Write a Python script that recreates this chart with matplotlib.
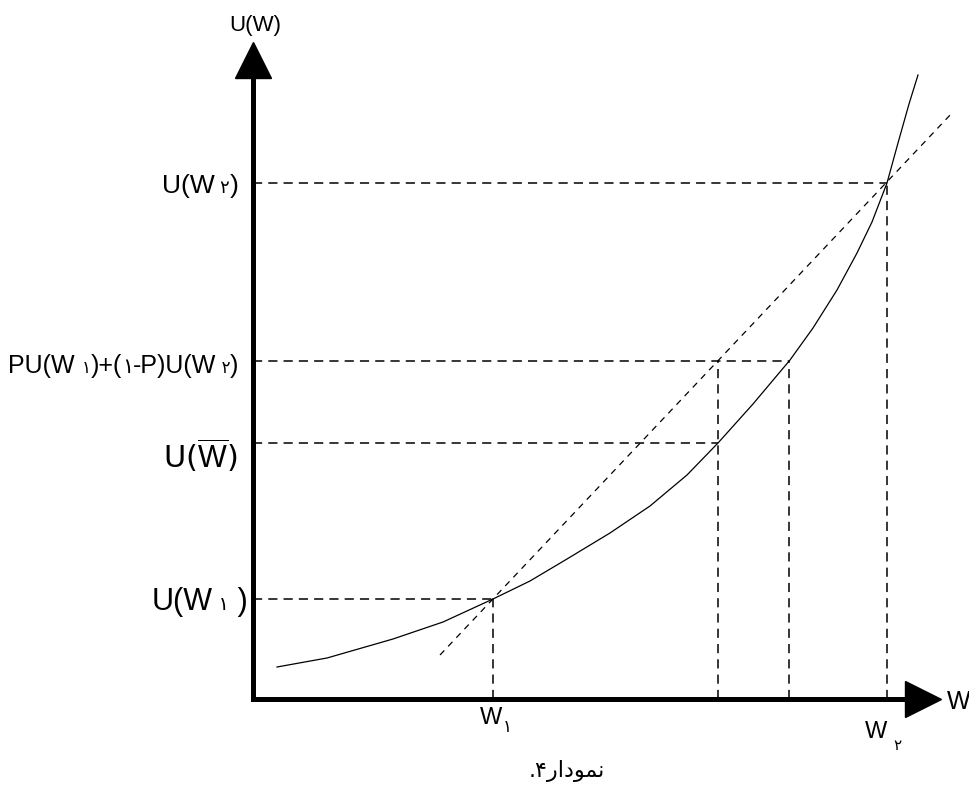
import matplotlib
matplotlib.use('Agg')
import matplotlib.pyplot as plt
import matplotlib.transforms as mtransforms

plt.rcParams['mathtext.fontset'] = 'custom'
plt.rcParams['mathtext.rm'] = 'Liberation Sans'
plt.rcParams['mathtext.it'] = 'Liberation Sans'
FAM = ['Liberation Sans', 'DejaVu Sans']

# utility curve (origin at the axes corner)
curve_w = [24, 74, 140, 190, 240, 277, 314, 357, 397, 434, 465, 500, 537,
           560, 584, 604, 619, 634, 645, 656, 665]
curve_u = [32, 41, 60, 77, 100, 118, 140, 166, 193, 224, 256, 295, 339,
           371, 409, 446, 477, 516, 556, 595, 624]

# chord through U(W1) and U(W2)
chord_w = [187, 699]
chord_u = [44, 586]

# guide levels
w1, w_bar, w_ce, w2 = 240, 465, 536, 634
u1, u_bar, u_mix, u2 = 100, 256, 338, 516

fig = plt.figure(figsize=(9.7, 7.94), dpi=100)
ax = fig.add_axes([0, 0, 1, 1])
ax.set_xlim(-253, 717)
ax.set_ylim(-95, 699)
ax.axis('off')

# axes with arrow heads
ax.plot([0, 0], [0, 622], color='black', lw=3.6, solid_capstyle='projecting')
ax.plot([0, 652], [0, 0], color='black', lw=3.6, solid_capstyle='projecting')
ax.plot([0], [639], marker='^', ms=26, color='black')
ax.plot([670], [0], marker='>', ms=26, color='black')

# curve and chord
ax.plot(curve_w, curve_u, color='black', lw=0.9)
ax.plot(chord_w, chord_u, color='black', lw=0.9, dashes=(5, 4.5))

# dashed guides
for w, u in [(w2, u2), (w_ce, u_mix), (w_bar, u_bar), (w1, u1)]:
    ax.plot([0, w], [u, u], color='black', lw=1.1, dashes=(6, 4))
for w, u in [(w1, u1), (w_bar, u_mix), (w_ce, u_mix), (w2, u2)]:
    ax.plot([w, w], [0, u], color='black', lw=1.1, dashes=(6, 4))

fig.canvas.draw()
renderer = fig.canvas.get_renderer()


def chain(x, y, parts):
    trans = ax.transData
    for s, size, dy in parts:
        t = ax.text(x, y, s, fontsize=size, family=FAM, va='baseline', ha='left',
                    transform=mtransforms.offset_copy(trans, fig=fig, y=dy, units='dots'))
        t.draw(renderer)
        wpx = t.get_window_extent(renderer).width
        trans = mtransforms.offset_copy(trans, fig=fig, x=wpx, units='dots')


chain(-91, 506, [('U(W', 19, 0), (' ۲', 13, 0), (')', 19, 0)])
chain(-245, 326, [('PU(W ', 18, 0), ('۱', 12, 0), (')+(', 18, 0), ('۱', 15, 0),
                  ('-P)U(W', 18, 0), (' ۲', 12, 0), (')', 18, 0)])
ax.text(-90, 231, r'U($\overline{\mathrm{W}}$)', fontsize=22, va='baseline', ha='left')
chain(-101, 89, [('U(W', 22, 0), (' ۱', 14, 0), (' )', 22, 0)])
chain(227, -25, [('W', 17, 0), ('۱', 12, -8)])
chain(612, -39, [('W ', 17, 0), ('۲', 11, -12)])
ax.text(694, -10, 'W', fontsize=18, family=FAM, va='baseline', ha='left')
ax.text(2, 668, 'U(W)', fontsize=16, family=FAM, va='baseline', ha='center')

# caption "نمودار۴." shaped by hand, visual order
caption = '.۴' + '\uFEAD\uFE8D\uFEA9\uFEEE\uFEE4\uFEE7'
ax.text(314, -78, caption, fontsize=16, family=['DejaVu Sans'], va='baseline', ha='center')

fig.savefig('out.png', dpi=100)
